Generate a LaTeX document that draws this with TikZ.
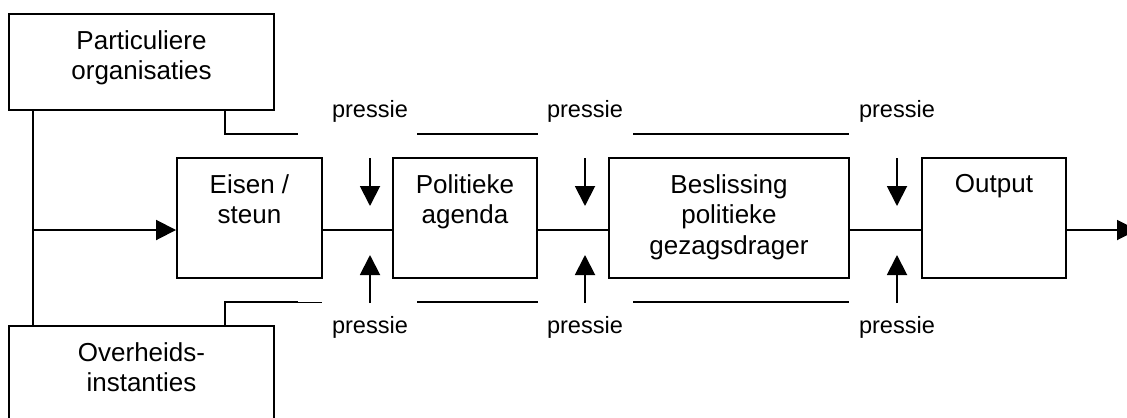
\documentclass[tikz,border=0pt]{standalone}
\usepackage{fontspec}
\setmainfont{Liberation Sans}
\usetikzlibrary{arrows.meta, positioning}

\tikzset{
    % Boxes - text sits at the top
    blok/.style={
        rectangle,
        draw=black,
        line width=1.1pt,
        minimum width=2.9cm,
        minimum height=2.4cm,
        inner sep=0pt
    },
    bloktekst/.style={
        anchor=north,
        inner sep=0pt,
        align=center,
        yshift=-0.34cm,
        font=\fontsize{14.8}{17.4}\selectfont
    },
    pressietekst/.style={
        inner sep=0pt,
        font=\fontsize{13.4}{16}\selectfont
    },
    % Lines and arrows
    lijn/.style={
        line width=1.1pt,
        draw=black
    },
    arrow/.style={
        -{Triangle[length=0.4cm, width=0.4cm]},
        line width=1.1pt,
        draw=black
    }
}

\begin{document}
\begin{tikzpicture}
    \clip (0,0) rectangle (22.54,-8.34);

    % Sources
    \node[blok, minimum width=5.3cm, minimum height=1.92cm,
        label={[bloktekst]north:Particuliere\\organisaties}] (part) at (2.83,-1.24) {};
    \node[blok, minimum width=5.3cm, minimum height=1.92cm,
        label={[bloktekst]north:Overheids-\\instanties}] (over) at (2.83,-7.48) {};

    % Chain
    \node[blok, label={[bloktekst]north:Eisen /\\steun}] (eisen) at (4.99,-4.36) {};
    \node[blok, minimum width=2.88cm, label={[bloktekst]north:Politieke\\agenda}] (agenda) at (9.30,-4.36) {};
    \node[blok, minimum width=4.8cm, label={[bloktekst]north:Beslissing\\politieke\\gezagsdrager}] (besl) at (14.58,-4.36) {};
    \node[blok, minimum width=2.88cm, label={[bloktekst]north:Output}] (output) at (19.88,-4.36) {};

    \coordinate (hoofd) at (0,-4.6);
    \coordinate (stam) at (0.66,0);
    \coordinate (uit) at (22.74,-4.6);

    % Inputs
    \draw[lijn] (part.south -| stam) -- (over.north -| stam);
    \draw[arrow] (stam |- hoofd) -- (eisen.west |- hoofd);

    % Main line
    \draw[lijn] (eisen.east |- hoofd) -- (agenda.west |- hoofd);
    \draw[lijn] (agenda.east |- hoofd) -- (besl.west |- hoofd);
    \draw[lijn] (besl.east |- hoofd) -- (output.west |- hoofd);
    \draw[arrow] (output.east |- hoofd) -- (uit);

    % Pressure bars
    \coordinate (pb) at (4.5,-2.68);
    \coordinate (po) at (4.5,-6.04);
    \coordinate (b0) at (5.96,-2.68);
    \coordinate (o0) at (5.96,-6.04);
    \draw[lijn] (part.south -| pb) -- (pb) -- (b0);
    \draw[lijn] (over.north -| po) -- (po) -- (o0);
    \draw[line width=0.5pt] (o0) -- (6.44,-6.04);
    \foreach \y in {-2.68,-6.04} {
        \draw[lijn] (8.34,\y) -- (10.76,\y);
        \draw[lijn] (12.66,\y) -- (16.98,\y);
    }

    % Pressure arrows
    \foreach \x/\n in {7.4/a, 11.7/b, 17.94/c} {
        \node[pressietekst] (boven\n) at (\x,-2.22) {pressie};
        \node[pressietekst] (onder\n) at (\x,-6.54) {pressie};
        \coordinate (vb\n) at (\x,-3.16);
        \coordinate (vo\n) at (\x,-6.06);
        \draw[arrow] (vb\n) -- ++(0,-0.96);
        \draw[arrow] (vo\n) -- ++(0,0.96);
    }
\end{tikzpicture}
\end{document}
